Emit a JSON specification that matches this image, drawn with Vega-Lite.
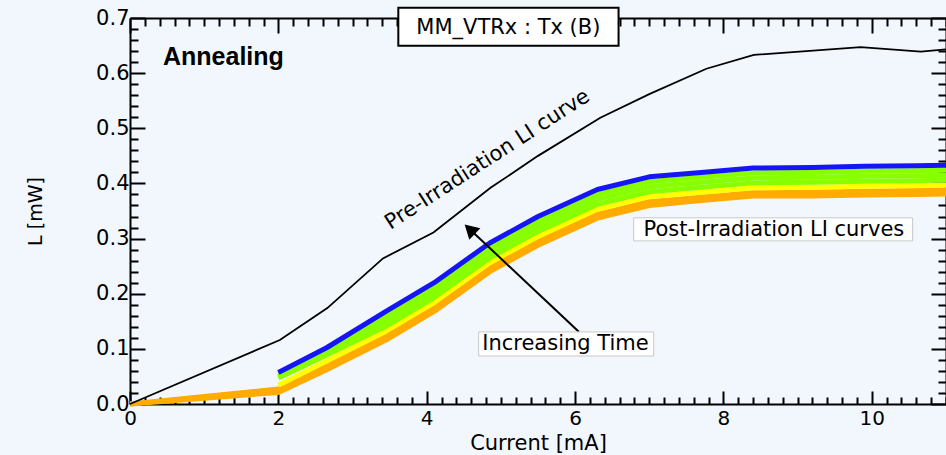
{
  "$schema": "https://vega.github.io/schema/vega-lite/v6.json",
  "width": 816,
  "height": 386,
  "autosize": "none",
  "padding": {"left": 130, "top": 18, "right": 0, "bottom": 51},
  "background": "#f2f7fd",
  "config": {"view": {"stroke": null}, "font": "DejaVu Sans"},
  "datasets": {
    "band": [
      {"r": "1o2", "g": "orange", "x": 0, "y": 0},
      {"r": "1o2", "g": "orange", "x": 2, "y": 0.021},
      {"r": "1o2", "g": "orange", "x": 2.65, "y": 0.062},
      {"r": "1o2", "g": "orange", "x": 3.45, "y": 0.116},
      {"r": "1o2", "g": "orange", "x": 4.1, "y": 0.168},
      {"r": "1o2", "g": "orange", "x": 4.85, "y": 0.240},
      {"r": "1o2", "g": "orange", "x": 5.5, "y": 0.288},
      {"r": "1o2", "g": "orange", "x": 6.3, "y": 0.337},
      {"r": "1o2", "g": "orange", "x": 7.0, "y": 0.360},
      {"r": "1o2", "g": "orange", "x": 7.7, "y": 0.369},
      {"r": "1o2", "g": "orange", "x": 8.4, "y": 0.377},
      {"r": "1o2", "g": "orange", "x": 9.2, "y": 0.377},
      {"r": "1o2", "g": "orange", "x": 9.9, "y": 0.379},
      {"r": "1o2", "g": "orange", "x": 10.6, "y": 0.380},
      {"r": "1o2", "g": "orange", "x": 11, "y": 0.381},
      {"r": "2o1", "g": "orange", "x": 0, "y": 0},
      {"r": "2o1", "g": "orange", "x": 2, "y": 0.027},
      {"r": "2o1", "g": "orange", "x": 2.65, "y": 0.069},
      {"r": "2o1", "g": "orange", "x": 3.45, "y": 0.123},
      {"r": "2o1", "g": "orange", "x": 4.1, "y": 0.175},
      {"r": "2o1", "g": "orange", "x": 4.85, "y": 0.247},
      {"r": "2o1", "g": "orange", "x": 5.5, "y": 0.295},
      {"r": "2o1", "g": "orange", "x": 6.3, "y": 0.344},
      {"r": "2o1", "g": "orange", "x": 7.0, "y": 0.367},
      {"r": "2o1", "g": "orange", "x": 7.7, "y": 0.375},
      {"r": "2o1", "g": "orange", "x": 8.4, "y": 0.383},
      {"r": "2o1", "g": "orange", "x": 9.2, "y": 0.384},
      {"r": "2o1", "g": "orange", "x": 9.9, "y": 0.386},
      {"r": "2o1", "g": "orange", "x": 10.6, "y": 0.387},
      {"r": "2o1", "g": "orange", "x": 11, "y": 0.388},
      {"r": "3y", "g": "yellow", "x": 2, "y": 0.034},
      {"r": "3y", "g": "yellow", "x": 2.65, "y": 0.078},
      {"r": "3y", "g": "yellow", "x": 3.45, "y": 0.132},
      {"r": "3y", "g": "yellow", "x": 4.1, "y": 0.184},
      {"r": "3y", "g": "yellow", "x": 4.85, "y": 0.256},
      {"r": "3y", "g": "yellow", "x": 5.5, "y": 0.304},
      {"r": "3y", "g": "yellow", "x": 6.3, "y": 0.353},
      {"r": "3y", "g": "yellow", "x": 7.0, "y": 0.376},
      {"r": "3y", "g": "yellow", "x": 7.7, "y": 0.384},
      {"r": "3y", "g": "yellow", "x": 8.4, "y": 0.392},
      {"r": "3y", "g": "yellow", "x": 9.2, "y": 0.393},
      {"r": "3y", "g": "yellow", "x": 9.9, "y": 0.395},
      {"r": "3y", "g": "yellow", "x": 10.6, "y": 0.396},
      {"r": "3y", "g": "yellow", "x": 11, "y": 0.397},
      {"r": "4g3", "g": "green", "x": 2, "y": 0.047},
      {"r": "4g3", "g": "green", "x": 2.65, "y": 0.089},
      {"r": "4g3", "g": "green", "x": 3.45, "y": 0.141},
      {"r": "4g3", "g": "green", "x": 4.1, "y": 0.193},
      {"r": "4g3", "g": "green", "x": 4.85, "y": 0.265},
      {"r": "4g3", "g": "green", "x": 5.5, "y": 0.313},
      {"r": "4g3", "g": "green", "x": 6.3, "y": 0.362},
      {"r": "4g3", "g": "green", "x": 7.0, "y": 0.385},
      {"r": "4g3", "g": "green", "x": 7.7, "y": 0.393},
      {"r": "4g3", "g": "green", "x": 8.4, "y": 0.401},
      {"r": "4g3", "g": "green", "x": 9.2, "y": 0.402},
      {"r": "4g3", "g": "green", "x": 9.9, "y": 0.404},
      {"r": "4g3", "g": "green", "x": 10.6, "y": 0.405},
      {"r": "4g3", "g": "green", "x": 11, "y": 0.406},
      {"r": "5g2", "g": "green", "x": 2, "y": 0.050},
      {"r": "5g2", "g": "green", "x": 2.65, "y": 0.093},
      {"r": "5g2", "g": "green", "x": 3.45, "y": 0.150},
      {"r": "5g2", "g": "green", "x": 4.1, "y": 0.202},
      {"r": "5g2", "g": "green", "x": 4.85, "y": 0.274},
      {"r": "5g2", "g": "green", "x": 5.5, "y": 0.322},
      {"r": "5g2", "g": "green", "x": 6.3, "y": 0.371},
      {"r": "5g2", "g": "green", "x": 7.0, "y": 0.394},
      {"r": "5g2", "g": "green", "x": 7.7, "y": 0.402},
      {"r": "5g2", "g": "green", "x": 8.4, "y": 0.410},
      {"r": "5g2", "g": "green", "x": 9.2, "y": 0.411},
      {"r": "5g2", "g": "green", "x": 9.9, "y": 0.413},
      {"r": "5g2", "g": "green", "x": 10.6, "y": 0.414},
      {"r": "5g2", "g": "green", "x": 11, "y": 0.415},
      {"r": "6g1", "g": "green", "x": 2, "y": 0.053},
      {"r": "6g1", "g": "green", "x": 2.65, "y": 0.097},
      {"r": "6g1", "g": "green", "x": 3.45, "y": 0.159},
      {"r": "6g1", "g": "green", "x": 4.1, "y": 0.211},
      {"r": "6g1", "g": "green", "x": 4.85, "y": 0.283},
      {"r": "6g1", "g": "green", "x": 5.5, "y": 0.331},
      {"r": "6g1", "g": "green", "x": 6.3, "y": 0.380},
      {"r": "6g1", "g": "green", "x": 7.0, "y": 0.403},
      {"r": "6g1", "g": "green", "x": 7.7, "y": 0.411},
      {"r": "6g1", "g": "green", "x": 8.4, "y": 0.419},
      {"r": "6g1", "g": "green", "x": 9.2, "y": 0.420},
      {"r": "6g1", "g": "green", "x": 9.9, "y": 0.422},
      {"r": "6g1", "g": "green", "x": 10.6, "y": 0.423},
      {"r": "6g1", "g": "green", "x": 11, "y": 0.424},
      {"r": "7b", "g": "blue", "x": 2, "y": 0.057},
      {"r": "7b", "g": "blue", "x": 2.65, "y": 0.102},
      {"r": "7b", "g": "blue", "x": 3.45, "y": 0.168},
      {"r": "7b", "g": "blue", "x": 4.1, "y": 0.220},
      {"r": "7b", "g": "blue", "x": 4.85, "y": 0.292},
      {"r": "7b", "g": "blue", "x": 5.5, "y": 0.340},
      {"r": "7b", "g": "blue", "x": 6.3, "y": 0.389},
      {"r": "7b", "g": "blue", "x": 7.0, "y": 0.412},
      {"r": "7b", "g": "blue", "x": 7.7, "y": 0.420},
      {"r": "7b", "g": "blue", "x": 8.4, "y": 0.428},
      {"r": "7b", "g": "blue", "x": 9.2, "y": 0.429},
      {"r": "7b", "g": "blue", "x": 9.9, "y": 0.431},
      {"r": "7b", "g": "blue", "x": 10.6, "y": 0.432},
      {"r": "7b", "g": "blue", "x": 11, "y": 0.433}
    ],
    "pre": [
      {"x": 0, "y": 0},
      {"x": 2.02, "y": 0.116},
      {"x": 2.66, "y": 0.174},
      {"x": 3.41, "y": 0.264},
      {"x": 4.09, "y": 0.311},
      {"x": 4.86, "y": 0.392},
      {"x": 5.5, "y": 0.450},
      {"x": 6.34, "y": 0.519},
      {"x": 7.0, "y": 0.562},
      {"x": 7.77, "y": 0.608},
      {"x": 8.41, "y": 0.633},
      {"x": 9.85, "y": 0.647},
      {"x": 10.66, "y": 0.639},
      {"x": 11, "y": 0.643}
    ],
    "boxesBlack": [
      {"x1": 3.617, "x2": 6.586, "y1": 0.7187, "y2": 0.6497}
    ],
    "boxesGray": [
      {"x1": 6.79, "x2": 10.55, "y1": 0.2958, "y2": 0.3376},
      {"x1": 4.70, "x2": 7.06, "y1": 0.0871, "y2": 0.1307}
    ],
    "labels": [
      {"t": "MM_VTRx : Tx (B)", "x": 5.10, "y": 0.682},
      {"t": "Post-Irradiation LI curves", "x": 8.68, "y": 0.316},
      {"t": "Increasing Time", "x": 5.87, "y": 0.109}
    ],
    "preLabel": [{"t": "Pre-Irradiation LI curve", "x": 4.82, "y": 0.443}],
    "title": [{"t": "Annealing", "x": 0.445, "y": 0.630}],
    "arrow": [{"x": 6.05, "y": 0.131, "x2": 4.58, "y2": 0.317}],
    "head": [{"x": 4.58, "y": 0.317}]
  },
  "layer": [
    {
      "data": {"name": "band"},
      "mark": {"type": "line", "strokeWidth": 5, "strokeCap": "butt", "strokeJoin": "round"},
      "encoding": {
        "x": {
          "field": "x", "type": "quantitative",
          "scale": {"domain": [0, 11], "nice": false, "zero": false},
          "axis": {
            "orient": "bottom",
            "values": [0,0.2,0.4,0.6,0.8,1,1.2,1.4,1.6,1.8,2,2.2,2.4,2.6,2.8,3,3.2,3.4,3.6,3.8,4,4.2,4.4,4.6,4.8,5,5.2,5.4,5.6,5.8,6,6.2,6.4,6.6,6.8,7,7.2,7.4,7.6,7.8,8,8.2,8.4,8.6,8.8,9,9.2,9.4,9.6,9.8,10,10.2,10.4,10.6,10.8,11],
            "labelExpr": "abs(datum.value/2-round(datum.value/2))<0.001 ? format(datum.value,'d') : ''",
            "tickSize": {"condition": {"test": "abs(datum.value/2-round(datum.value/2))<0.001", "value": -13}, "value": -7},
            "tickColor": "black", "tickWidth": 2,
            "domainColor": "black", "domainWidth": 2,
            "labelColor": "black", "labelFontSize": 20, "labelFont": "DejaVu Sans",
            "labelPadding": 17, "labelOverlap": false, "labelFlush": false,
            "grid": false,
            "title": "Current [mA]", "titleFontSize": 21, "titleFontWeight": "normal",
            "titleColor": "black", "titleFont": "DejaVu Sans",
            "titleX": 408, "titleY": 39, "titleBaseline": "middle", "titleAlign": "center"
          }
        },
        "y": {
          "field": "y", "type": "quantitative",
          "scale": {"domain": [0, 0.7], "nice": false, "zero": false},
          "axis": {
            "orient": "left",
            "values": [0,0.02,0.04,0.06,0.08,0.1,0.12,0.14,0.16,0.18,0.2,0.22,0.24,0.26,0.28,0.3,0.32,0.34,0.36,0.38,0.4,0.42,0.44,0.46,0.48,0.5,0.52,0.54,0.56,0.58,0.6,0.62,0.64,0.66,0.68,0.7],
            "labelExpr": "abs(datum.value*10-round(datum.value*10))<0.001 ? format(datum.value,'.1f') : ''",
            "tickSize": {"condition": {"test": "abs(datum.value*10-round(datum.value*10))<0.001", "value": -15}, "value": -8},
            "tickColor": "black", "tickWidth": 2,
            "domainColor": "black", "domainWidth": 2,
            "labelColor": "black", "labelFontSize": 21, "labelFont": "DejaVu Sans",
            "labelPadding": 16, "labelOverlap": false, "labelFlush": false,
            "grid": false,
            "title": "L [mW]", "titleFontSize": 19, "titleFontWeight": "normal",
            "titleColor": "black", "titleFont": "DejaVu Sans",
            "titleX": -95, "titleY": 193, "titleBaseline": "middle", "titleAlign": "center", "titleAngle": 270
          }
        },
        "color": {
          "field": "g", "type": "nominal",
          "scale": {"domain": ["orange", "yellow", "green", "blue"], "range": ["#ffab00", "#ffff00", "#88ff00", "#1515f5"]},
          "legend": null
        },
        "detail": {"field": "r"}
      }
    },
    {
      "data": {"name": "pre"},
      "mark": {"type": "line", "color": "black", "strokeWidth": 1.8},
      "encoding": {
        "x": {
          "field": "x", "type": "quantitative",
          "scale": {"domain": [0, 11], "nice": false, "zero": false},
          "axis": {
            "orient": "top",
            "values": [0,0.2,0.4,0.6,0.8,1,1.2,1.4,1.6,1.8,2,2.2,2.4,2.6,2.8,3,3.2,3.4,3.6,3.8,4,4.2,4.4,4.6,4.8,5,5.2,5.4,5.6,5.8,6,6.2,6.4,6.6,6.8,7,7.2,7.4,7.6,7.8,8,8.2,8.4,8.6,8.8,9,9.2,9.4,9.6,9.8,10,10.2,10.4,10.6,10.8,11],
            "labels": false,
            "tickSize": {"condition": {"test": "abs(datum.value/2-round(datum.value/2))<0.001", "value": -15}, "value": -8},
            "tickColor": "black", "tickWidth": 2,
            "domainColor": "black", "domainWidth": 2,
            "grid": false, "title": null
          }
        },
        "y": {
          "field": "y", "type": "quantitative",
          "scale": {"domain": [0, 0.7], "nice": false, "zero": false},
          "axis": {
            "orient": "right",
            "values": [0,0.02,0.04,0.06,0.08,0.1,0.12,0.14,0.16,0.18,0.2,0.22,0.24,0.26,0.28,0.3,0.32,0.34,0.36,0.38,0.4,0.42,0.44,0.46,0.48,0.5,0.52,0.54,0.56,0.58,0.6,0.62,0.64,0.66,0.68,0.7],
            "labels": false,
            "tickSize": {"condition": {"test": "abs(datum.value*10-round(datum.value*10))<0.001", "value": -15}, "value": -8},
            "tickColor": "black", "tickWidth": 2,
            "domainColor": "black", "domainWidth": 2,
            "grid": false, "title": null
          }
        }
      }
    },
    {
      "data": {"name": "arrow"},
      "mark": {"type": "rule", "color": "black", "strokeWidth": 2},
      "encoding": {
        "x": {"field": "x", "type": "quantitative", "axis": null},
        "y": {"field": "y", "type": "quantitative", "axis": null},
        "x2": {"field": "x2"},
        "y2": {"field": "y2"}
      }
    },
    {
      "data": {"name": "head"},
      "mark": {"type": "point", "shape": "triangle-up", "filled": true, "color": "black", "opacity": 1, "size": 260, "angle": 313.5},
      "encoding": {
        "x": {"field": "x", "type": "quantitative", "axis": null},
        "y": {"field": "y", "type": "quantitative", "axis": null}
      }
    },
    {
      "data": {"name": "boxesBlack"},
      "mark": {"type": "rect", "fill": "white", "stroke": "black", "strokeWidth": 2},
      "encoding": {
        "x": {"field": "x1", "type": "quantitative", "axis": null},
        "x2": {"field": "x2"},
        "y": {"field": "y1", "type": "quantitative", "axis": null},
        "y2": {"field": "y2"}
      }
    },
    {
      "data": {"name": "boxesGray"},
      "mark": {"type": "rect", "fill": "white", "stroke": "#c8c8c8", "strokeWidth": 1},
      "encoding": {
        "x": {"field": "x1", "type": "quantitative", "axis": null},
        "x2": {"field": "x2"},
        "y": {"field": "y1", "type": "quantitative", "axis": null},
        "y2": {"field": "y2"}
      }
    },
    {
      "data": {"name": "labels"},
      "mark": {"type": "text", "font": "DejaVu Sans", "fontSize": 21, "color": "black", "align": "center", "baseline": "middle"},
      "encoding": {
        "x": {"field": "x", "type": "quantitative", "axis": null},
        "y": {"field": "y", "type": "quantitative", "axis": null},
        "text": {"field": "t"}
      }
    },
    {
      "data": {"name": "preLabel"},
      "mark": {"type": "text", "font": "DejaVu Sans", "fontSize": 21, "color": "black", "align": "center", "baseline": "middle", "angle": 327},
      "encoding": {
        "x": {"field": "x", "type": "quantitative", "axis": null},
        "y": {"field": "y", "type": "quantitative", "axis": null},
        "text": {"field": "t"}
      }
    },
    {
      "data": {"name": "title"},
      "mark": {"type": "text", "font": "Liberation Sans", "fontSize": 25, "fontWeight": "bold", "color": "black", "align": "left", "baseline": "middle"},
      "encoding": {
        "x": {"field": "x", "type": "quantitative", "axis": null},
        "y": {"field": "y", "type": "quantitative", "axis": null},
        "text": {"field": "t"}
      }
    }
  ],
  "resolve": {"axis": {"x": "independent", "y": "independent"}}
}
